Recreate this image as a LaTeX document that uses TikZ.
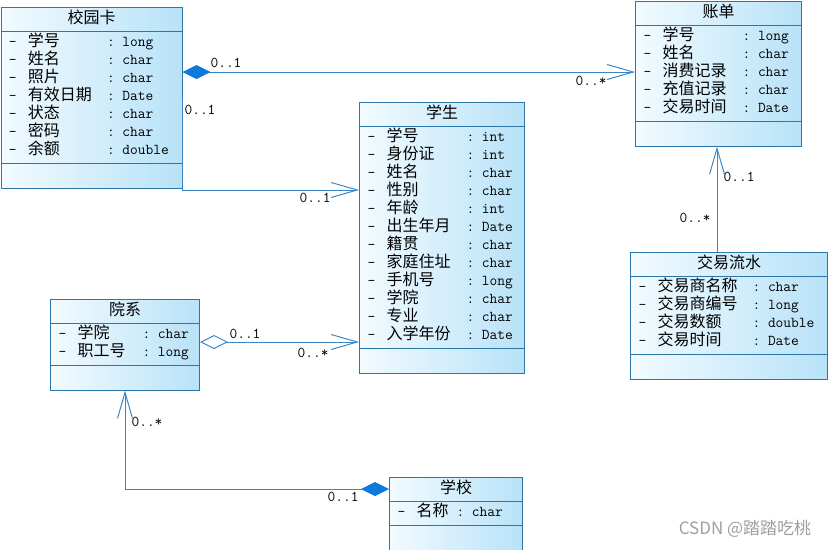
\documentclass[tikz,border=0pt]{standalone}
\usepackage{fontspec}
\setmainfont{Noto Sans CJK SC}
\setmonofont{Latin Modern Mono}[Scale=0.94]
\usepackage{xcolor}
\usepackage{tikz}
\usetikzlibrary{arrows.meta,shapes.multipart}

\definecolor{umlline}{RGB}{45,118,170}
\definecolor{umlwire}{RGB}{60,135,195}
\definecolor{umldia}{RGB}{15,120,220}
\definecolor{umlfillA}{RGB}{242,251,255}
\definecolor{umlfillB}{RGB}{184,226,248}

\newcommand{\attrs}[2]{\begin{tabular}{@{}p{19pt}@{}p{#1}@{}l@{}}#2\end{tabular}}
\newcommand{\attrrow}[2]{\texttt{-} & \smash{#1} & \texttt{: #2}}
\newcommand{\ctitle}[1]{\strut\smash{#1}}

\begin{document}
\begin{tikzpicture}[x=1pt,y=1pt,font=\fontsize{16}{18}\selectfont,
 cls/.style={rectangle split,rectangle split parts=3,rectangle split part align={center,left,left},
  rectangle split empty part height=19.2pt,draw=umlline,line width=1pt,left color=umlfillA,right color=umlfillB,
  inner xsep=8pt,inner ysep=2.4pt,anchor=north west},
 mult/.style={font=\fontsize{16}{18}\selectfont\ttfamily,inner sep=1pt},
 assoc/.style={draw=umlwire,line width=1pt,-{Straight Barb[length=26pt,width=15pt]}},
 comp/.style={assoc,{Diamond[length=28pt,width=14pt,umldia,fill=umldia]}-{Straight Barb[length=26pt,width=15pt]}},
 aggr/.style={assoc,{Diamond[open,length=28pt,width=14pt]}-{Straight Barb[length=26pt,width=15pt]}}]
\useasboundingbox (0,0) rectangle (829,-549);

% classes
\node[cls,minimum width=181pt] (card) at (0.5,-7) {\ctitle{校园卡}
 \nodepart{two}\attrs{79pt}{\attrrow{学号}{long}\\ \attrrow{姓名}{char}\\ \attrrow{照片}{char}\\
  \attrrow{有效日期}{Date}\\ \attrrow{状态}{char}\\ \attrrow{密码}{char}\\ \attrrow{余额}{double}}
 \nodepart{three}};
\node[cls,minimum width=165pt] (stu) at (359,-102) {\ctitle{学生}
 \nodepart{two}\attrs{80pt}{\attrrow{学号}{int}\\ \attrrow{身份证}{int}\\ \attrrow{姓名}{char}\\
  \attrrow{性别}{char}\\ \attrrow{年龄}{int}\\ \attrrow{出生年月}{Date}\\ \attrrow{籍贯}{char}\\
  \attrrow{家庭住址}{char}\\ \attrrow{手机号}{long}\\ \attrrow{学院}{char}\\ \attrrow{专业}{char}\\
  \attrrow{入学年份}{Date}}
 \nodepart{three}};
\node[cls,minimum width=166pt] (bill) at (635,-1) {\ctitle{账单}
 \nodepart{two}\attrs{80pt}{\attrrow{学号}{long}\\ \attrrow{姓名}{char}\\ \attrrow{消费记录}{char}\\
  \attrrow{充值记录}{char}\\ \attrrow{交易时间}{Date}}
 \nodepart{three}};
\node[cls,minimum width=197pt] (flow) at (630,-252) {\ctitle{交易流水}
 \nodepart{two}\attrs{95pt}{\attrrow{交易商名称}{char}\\ \attrrow{交易商编号}{long}\\
  \attrrow{交易数额}{double}\\ \attrrow{交易时间}{Date}}
 \nodepart{three}};
\node[cls,minimum width=149pt] (dept) at (50,-299) {\ctitle{院系}
 \nodepart{two}\attrs{65pt}{\attrrow{学院}{char}\\ \attrrow{职工号}{long}}
 \nodepart{three}};
\node[cls,minimum width=133pt] (school) at (389,-477) {\ctitle{学校}
 \nodepart{two}\attrs{40pt}{\attrrow{名称}{char}}
 \nodepart{three}};

% routing guides
\coordinate (yBill) at (0,-72);
\coordinate (yStu) at (0,-190);
\coordinate (yDept) at (0,-342);
\coordinate (ySchool) at (0,-489);
\coordinate (xFlow) at (717,0);
\coordinate (xDept) at (125,0);

% associations
\draw[comp] (card.east |- yBill) -- (bill.west |- yBill);
\draw[assoc] (card.east) |- (stu.west |- yStu);
\draw[aggr] (dept.east |- yDept) -- (stu.west |- yDept);
\draw[assoc] (flow.north -| xFlow) -- (bill.south -| xFlow);
\draw[comp] (school.west |- ySchool) -| (dept.south -| xDept);

% multiplicities
\node[mult] (m1) at (226,-63) {0..1};
\node[mult] (m2) at (591,-81) {0..*};
\node[mult] (m3) at (200,-110) {0..1};
\node[mult] (m4) at (315,-198) {0..1};
\node[mult] (m5) at (245,-334) {0..1};
\node[mult] (m6) at (313,-353) {0..*};
\node[mult] (m7) at (739,-177) {0..1};
\node[mult] (m8) at (695,-218) {0..*};
\node[mult] (m9) at (147,-422) {0..*};
\node[mult] (m10) at (343,-497) {0..1};

\node[text=gray!75,font=\fontsize{17}{18}\selectfont] (mark) at (745,-529) {CSDN @踏踏吃桃};
\end{tikzpicture}
\end{document}
